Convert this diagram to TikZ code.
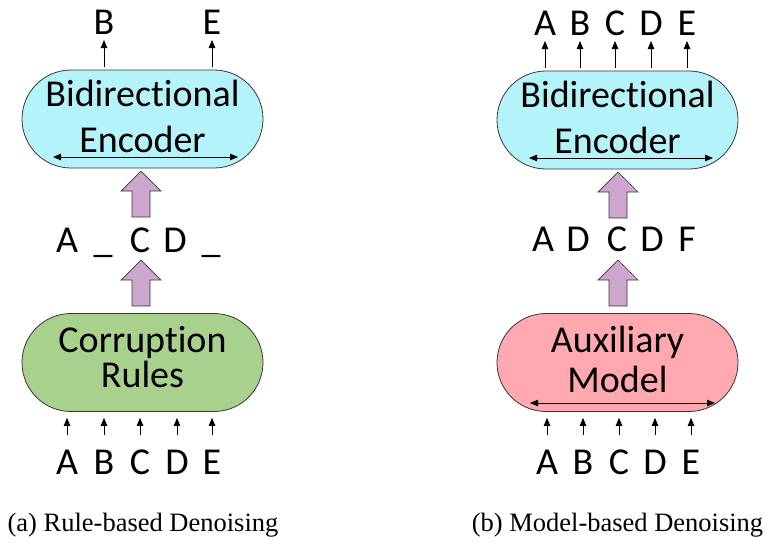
\documentclass[tikz,border=0pt]{standalone}
\usepackage{fontspec}
\setmainfont{Carlito}[Ligatures={NoCommon,NoContextual}]
\newfontfamily\capfont{Liberation Serif}
\usetikzlibrary{shapes.misc,arrows.meta}
\definecolor{encblue}{RGB}{180,243,250}
\definecolor{rulegreen}{RGB}{169,209,142}
\definecolor{auxpink}{RGB}{255,168,175}
\definecolor{fatpurple}{RGB}{204,166,204}
\definecolor{edgegray}{RGB}{55,55,55}
\begin{document}
\begin{tikzpicture}[x=1pt,y=-1pt,
 box/.style={rounded rectangle, draw=edgegray, line width=0.8pt, minimum width=241pt, minimum height=98pt, inner sep=0pt},
 boxtext/.style={font=\fontsize{38}{40}\selectfont, anchor=base, inner sep=0pt},
 tok/.style={font=\fontsize{38}{40}\selectfont, anchor=south, inner sep=0pt, text height=24pt, text depth=0pt},
 fatstyle/.style={draw=edgegray, fill=fatpurple, line width=0.7pt, line join=miter},
 thinarr/.style={line width=0.8pt, -{Triangle[length=8pt,width=6.5pt]}},
 bidir/.style={line width=0.8pt, {Triangle[length=8pt,width=6.5pt]}-{Triangle[length=8pt,width=6.5pt]}},
 captext/.style={font=\capfont\fontsize{26.5}{30}\selectfont, anchor=base, inner sep=0pt},
 fatarrow/.pic={\path[fatstyle] (0,0) -- (20,20) -- (9,20) -- (9,46) -- (-9,46) -- (-9,20) -- (-20,20) -- cycle;}]
\useasboundingbox (0,0) rectangle (766,542);

% ---------- (a) ----------
\node[box, fill=encblue] (encA) at (142.5,119) {};
\node[boxtext] (encAl1) at (142.5,106) {Bidirectional};
\node[boxtext] (encAl2) at (142.5,152) {Encoder};
\coordinate (encAL) at (53,157);
\coordinate (encAR) at (238,157);
\draw[bidir] (encAL) -- (encAR);

\node[tok] (aoB) at (104,35) {B};
\node[tok] (aoE) at (212,35) {E};
\foreach \n in {aoB,aoE}
  \draw[thinarr, shorten <=3pt, shorten >=5pt] (\n.south |- encA.north) -- (\n.south);

\pic (afat1) at (141,171) {fatarrow};
\pic (afat2) at (141,260) {fatarrow};

\node[tok] (amA) at (67,253) {A};
\node[tok] (amB) at (103,253) {\_};
\node[tok] (amC) at (140,253) {C};
\node[tok] (amD) at (175,253) {D};
\node[tok] (amE) at (211,253) {\_};

\node[box, fill=rulegreen] (rules) at (142.5,362.5) {};
\node[boxtext] (rulesl1) at (142.5,352) {Corruption};
\node[boxtext] (rulesl2) at (142.5,387) {Rules};

\node[tok] (aiA) at (67,475) {A};
\node[tok] (aiB) at (104,475) {B};
\node[tok] (aiC) at (140,475) {C};
\node[tok] (aiD) at (177,475) {D};
\node[tok] (aiE) at (212,475) {E};
\foreach \n in {aiA,aiB,aiC,aiD,aiE}
  \draw[thinarr, shorten <=16pt, shorten >=6pt] (\n.north) -- (\n.north |- rules.south);

\node[captext] (capA) at (143,531) {(a) Rule-based Denoising};

% ---------- (b) ----------
\node[box, fill=encblue] (encB) at (617.5,120) {};
\node[boxtext] (encBl1) at (617.5,107) {Bidirectional};
\node[boxtext] (encBl2) at (617.5,153) {Encoder};
\coordinate (encBL) at (529,158);
\coordinate (encBR) at (713,158);
\draw[bidir] (encBL) -- (encBR);

\node[tok] (boA) at (545,36) {A};
\node[tok] (boB) at (580,36) {B};
\node[tok] (boC) at (615,36) {C};
\node[tok] (boD) at (651,36) {D};
\node[tok] (boE) at (687,36) {E};
\foreach \n in {boA,boB,boC,boD,boE}
  \draw[thinarr, shorten <=3pt, shorten >=5pt] (\n.south |- encB.north) -- (\n.south);

\pic (bfat1) at (618,172) {fatarrow};
\pic (bfat2) at (618,260) {fatarrow};

\node[tok] (bmA) at (543,252) {A};
\node[tok] (bmB) at (578,252) {D};
\node[tok] (bmC) at (617,252) {C};
\node[tok] (bmD) at (652,252) {D};
\node[tok] (bmE) at (687,252) {F};

\node[box, fill=auxpink] (aux) at (617.5,362.5) {};
\node[boxtext] (auxl1) at (617.5,352) {Auxiliary};
\node[boxtext] (auxl2) at (617.5,392) {Model};
\coordinate (auxL) at (530,403);
\coordinate (auxR) at (715,403);
\draw[bidir] (auxL) -- (auxR);

\node[tok] (biA) at (547,475) {A};
\node[tok] (biB) at (583,475) {B};
\node[tok] (biC) at (619,475) {C};
\node[tok] (biD) at (655,475) {D};
\node[tok] (biE) at (691,475) {E};
\foreach \n in {biA,biB,biC,biD,biE}
  \draw[thinarr, shorten <=16pt, shorten >=6pt] (\n.north) -- (\n.north |- aux.south);

\node[captext] (capB) at (617.5,531) {(b) Model-based Denoising};
\end{tikzpicture}
\end{document}
